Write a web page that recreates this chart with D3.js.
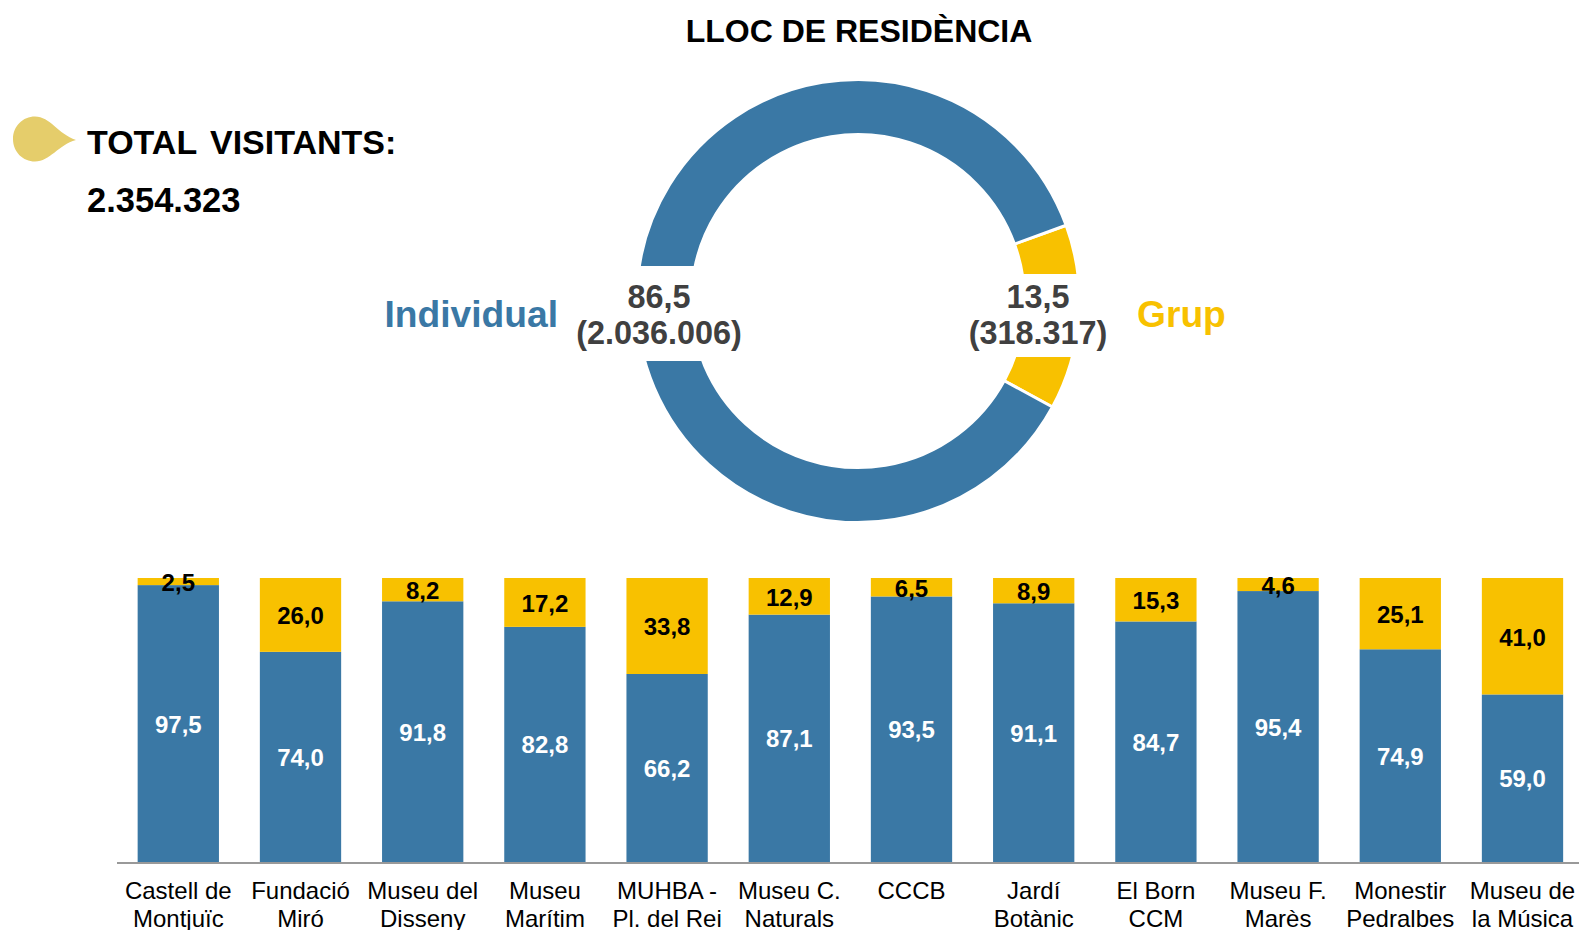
<!DOCTYPE html>
<html><head><meta charset="utf-8">
<script src="https://cdnjs.cloudflare.com/ajax/libs/d3/7.8.5/d3.min.js"></script>
<style>html,body{margin:0;padding:0;background:#fff;overflow:hidden}svg{display:block}text{font-family:"Liberation Sans",Arial,sans-serif}</style>
</head><body><svg id="c" width="1579" height="930"></svg>
<script>
const categories=["Castell de\nMontjuïc","Fundació\nMiró","Museu del\nDisseny","Museu\nMarítim","MUHBA -\nPl. del Rei","Museu C.\nNaturals","CCCB","Jardí\nBotànic","El Born\nCCM","Museu F.\nMarès","Monestir\nPedralbes","Museu de\nla Música"];
const individual=[97.5,74.0,91.8,82.8,66.2,87.1,93.5,91.1,84.7,95.4,74.9,59.0];
const grup=[2.5,26.0,8.2,17.2,33.8,12.9,6.5,8.9,15.3,4.6,25.1,41.0];
const donutNames=["Grup","Individual"];
const donutPct=[13.5,86.5];
const donutAbs=["318.317","2.036.006"];
const BLUE="#3A78A5",YEL="#F8C100";
const fmt=v=>v.toFixed(1).replace(".",",");
const svg=d3.select("#c");

svg.append("text").attr("x",859).attr("y",42).attr("text-anchor","middle").attr("font-weight","bold").attr("font-size",32).attr("fill","#000").text("LLOC DE RESIDÈNCIA");

// drop marker
svg.append("path").attr("d","M13,139 C13,126 23,116.5 35,116.5 C50,116.5 58,134 76,140 C58,145 50,161.5 35,161.5 C23,161.5 13,152 13,139 Z").attr("fill","#E5CD6B");
svg.append("text").attr("x",87).attr("y",154).attr("font-weight","bold").attr("font-size",34).attr("word-spacing",4).text("TOTAL VISITANTS:");
svg.append("text").attr("x",87).attr("y",212).attr("font-weight","bold").attr("font-size",34.5).text("2.354.323");

// donut
const cx=858,cy=301;
const pie=d3.pie().sort(null).startAngle(70*Math.PI/180).endAngle(430*Math.PI/180);
const arc=d3.arc().innerRadius(166.5).outerRadius(221.5);
const dg=svg.append("g").attr("transform",`translate(${cx},${cy})`);
dg.selectAll("path").data(pie(donutPct)).join("path").attr("d",arc).attr("fill",(d,i)=>i===0?YEL:BLUE).attr("stroke","#fff").attr("stroke-width",3);
// white label patches
svg.append("rect").attr("x",600).attr("y",266).attr("width",130).attr("height",95).attr("fill","#fff");
svg.append("rect").attr("x",990).attr("y",274).attr("width",110).attr("height",83).attr("fill","#fff");
const lab=[{i:1,x:659,nx:558,anchor:"end"},{i:0,x:1038,nx:1137,anchor:"start"}];
lab.forEach(l=>{
  svg.append("text").attr("x",l.x).attr("y",308).attr("text-anchor","middle").attr("font-weight","bold").attr("font-size",32.4).attr("fill","#404040").text(fmt(donutPct[l.i]));
  svg.append("text").attr("x",l.x).attr("y",344).attr("text-anchor","middle").attr("font-weight","bold").attr("font-size",32.4).attr("fill","#404040").text(`(${donutAbs[l.i]})`);
  svg.append("text").attr("x",l.nx).attr("y",327).attr("text-anchor",l.anchor).attr("font-weight","bold").attr("font-size",37.2).attr("fill",l.i===1?BLUE:YEL).text(donutNames[l.i]);
});

// bars
const step=122.2,x0=117.2;
const x=d3.scaleBand().domain(categories).range([x0,x0+step*12]).paddingInner(1-81.3/step).paddingOuter((1-81.3/step)/2);
const y=d3.scaleLinear().domain([0,100]).range([862,578]);
const g=svg.append("g");
categories.forEach((c,i)=>{
  const bx=x(c),w=x.bandwidth(),mid=bx+w/2;
  g.append("rect").attr("x",bx).attr("width",w).attr("y",y(individual[i])).attr("height",y(0)-y(individual[i])).attr("fill",BLUE);
  g.append("rect").attr("x",bx).attr("width",w).attr("y",y(100)).attr("height",y(individual[i])-y(100)).attr("fill",YEL);
  g.append("text").attr("x",mid).attr("y",(y(0)+y(individual[i]))/2+9).attr("text-anchor","middle").attr("font-weight","bold").attr("font-size",24).attr("fill","#fff").text(fmt(individual[i]));
  g.append("text").attr("x",mid).attr("y",(y(100)+y(individual[i]))/2+9.5).attr("text-anchor","middle").attr("font-weight","bold").attr("font-size",24).attr("fill","#000").text(fmt(grup[i]));
});
// axis
const ax=svg.append("g").attr("transform","translate(0,863)").call(d3.axisBottom(x).tickSize(0).tickFormat(""));
ax.select(".domain").attr("d","M117,0H1579").attr("stroke","#999").attr("stroke-width",2);
ax.selectAll(".tick text").remove();
ax.selectAll(".tick").each(function(c){
  const t=d3.select(this).append("text").attr("text-anchor","middle").attr("font-size",24).attr("fill","#000");
  c.split("\n").forEach((s,k)=>t.append("tspan").attr("x",0).attr("y",36+k*28).text(s));
});
</script></body></html>
